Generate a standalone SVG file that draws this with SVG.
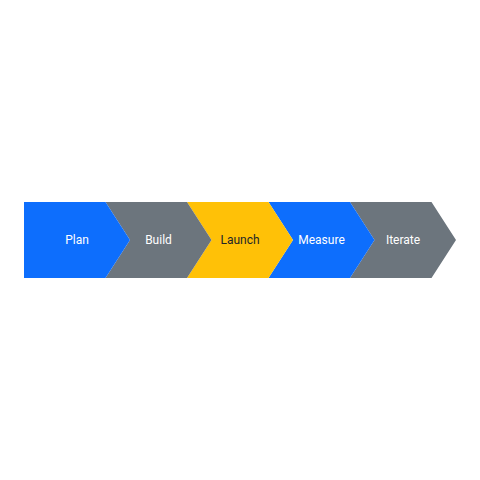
<svg xmlns="http://www.w3.org/2000/svg" width="480" height="480" viewBox="0 0 480 480">
<style>
.t{font-family:Roboto,"Liberation Sans",sans-serif;font-size:12px;text-anchor:middle;dominant-baseline:central;fill:#ffffff}
.d{fill:#212529}
.blue{fill:#0d6efd}.gray{fill:#6c757d}.yellow{fill:#ffc107}
</style>
<rect width="480" height="480" fill="#ffffff"/>
<g id="connectors"></g>
<g id="iterate"><polygon class="gray" points="350,202 431.5,202 456,240 431.5,278 350,278 374.5,240"/><text class="t" x="403" y="240">Iterate</text></g>
<g id="measure"><polygon class="blue" points="268.5,202 350,202 374.5,240 350,278 268.5,278 293,240"/><text class="t" x="321.5" y="240">Measure</text></g>
<g id="launch"><polygon class="yellow" points="187,202 268.5,202 293,240 268.5,278 187,278 211.5,240"/><text class="t d" x="240" y="240">Launch</text></g>
<g id="build"><polygon class="gray" points="105.5,202 187,202 211.5,240 187,278 105.5,278 130,240"/><text class="t" x="158.5" y="240">Build</text></g>
<g id="plan"><polygon class="blue" points="24,202 105.5,202 130,240 105.5,278 24,278"/><text class="t" x="77" y="240">Plan</text></g>
</svg>
